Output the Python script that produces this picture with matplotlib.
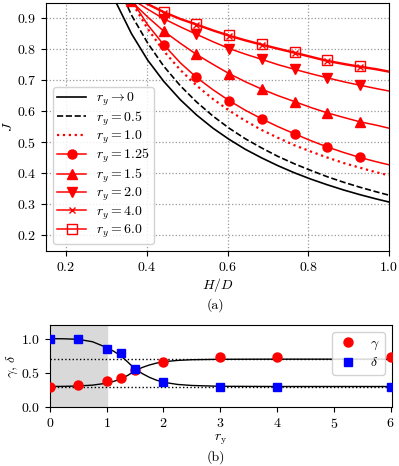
import numpy as np
import matplotlib
matplotlib.use("Agg")
import matplotlib.pyplot as plt

plt.rcParams['font.family'] = 'serif'
plt.rcParams['font.serif'] = ['cmr10', 'DejaVu Serif']
plt.rcParams['mathtext.fontset'] = 'cm'
plt.rcParams['axes.formatter.use_mathtext'] = True
plt.rcParams['font.size'] = 10

# ---- panel (a): J vs H/D ----
hd = [0.281, 0.321, 0.362, 0.402, 0.442, 0.483, 0.523, 0.564, 0.604, 0.644,
      0.685, 0.725, 0.766, 0.806, 0.846, 0.887, 0.927, 0.968, 1.0]
J_r0 = [1.096, 0.959, 0.851, 0.766, 0.697, 0.638, 0.589, 0.546, 0.510, 0.478,
        0.450, 0.425, 0.402, 0.382, 0.364, 0.347, 0.332, 0.318, 0.308]
J_r05 = [1.174, 1.028, 0.911, 0.821, 0.746, 0.683, 0.631, 0.585, 0.546, 0.512,
         0.482, 0.455, 0.431, 0.410, 0.390, 0.372, 0.356, 0.341, 0.330]
J_r10 = [1.208, 1.067, 0.954, 0.867, 0.795, 0.734, 0.684, 0.640, 0.603, 0.570,
         0.540, 0.515, 0.491, 0.471, 0.452, 0.434, 0.419, 0.404, 0.394]
J_r125 = [1.21, 1.075, 0.96, 0.88, 0.815, 0.757, 0.71, 0.67, 0.635, 0.604,
          0.576, 0.551, 0.528, 0.506, 0.486, 0.468, 0.452, 0.438, 0.428]
J_r15 = [1.07, 1.0, 0.955, 0.905, 0.859, 0.82, 0.784, 0.752, 0.722, 0.696,
         0.672, 0.651, 0.632, 0.613, 0.596, 0.581, 0.567, 0.556, 0.546]
J_r20 = [1.03, 0.99, 0.963, 0.93, 0.899, 0.873, 0.849, 0.825, 0.803, 0.785,
         0.768, 0.751, 0.736, 0.722, 0.709, 0.696, 0.685, 0.674, 0.666]
J_r40 = [1.005, 0.98, 0.972, 0.945, 0.919, 0.897, 0.879, 0.860, 0.843, 0.828,
         0.814, 0.801, 0.788, 0.775, 0.762, 0.752, 0.743, 0.735, 0.727]
J_r60 = [1.01, 0.985, 0.975, 0.948, 0.922, 0.90, 0.882, 0.863, 0.846, 0.831,
         0.817, 0.804, 0.791, 0.778, 0.765, 0.755, 0.746, 0.738, 0.730]

# ---- panel (b): gamma, delta vs r_y ----
ry = [0, 0.5, 1.0, 1.25, 1.5, 2.0, 3.0, 4.0, 6.0]
gamma = [0.30, 0.32, 0.387, 0.42, 0.54, 0.66, 0.73, 0.73, 0.73]
delta = [1.0, 1.0, 0.855, 0.79, 0.55, 0.37, 0.295, 0.295, 0.295]
ry_fit = [0, 0.25, 0.5, 0.75, 1.0, 1.125, 1.25, 1.375, 1.5, 1.625, 1.75,
          1.875, 2.0, 2.25, 2.5, 3.0, 4.0, 5.0, 6.0]
gamma_fit = [0.30, 0.302, 0.308, 0.32, 0.348, 0.375, 0.41, 0.465, 0.53, 0.578,
             0.614, 0.642, 0.662, 0.682, 0.692, 0.698, 0.70, 0.70, 0.70]
delta_fit = [1.0, 0.998, 0.99, 0.955, 0.87, 0.815, 0.749, 0.655, 0.556, 0.49,
             0.435, 0.393, 0.362, 0.33, 0.315, 0.303, 0.30, 0.30, 0.30]

fig = plt.figure(figsize=(3.99, 4.66), dpi=100)
ax = fig.add_axes([0.115, 0.4614, 0.86, 0.5322])

ax.plot(hd, J_r0, color='k', lw=1.2, label=r'$r_y \to 0$')
ax.plot(hd, J_r05, color='k', lw=1.2, ls='--', label=r'$r_y = 0.5$')
ax.plot(hd, J_r10, color='r', lw=1.6, ls=':', label=r'$r_y = 1.0$')
mk = slice(2, 17, 2)
ax.plot(hd, J_r125, color='r', lw=1.1, marker='o', ms=6.5, markevery=mk, label=r'$r_y = 1.25$')
ax.plot(hd, J_r15, color='r', lw=1.1, marker='^', ms=6.5, markevery=mk, label=r'$r_y = 1.5$')
ax.plot(hd, J_r20, color='r', lw=1.1, marker='v', ms=6.5, markevery=mk, label=r'$r_y = 2.0$')
ax.plot(hd, J_r40, color='r', lw=1.1, marker='x', ms=5, markevery=mk, label=r'$r_y = 4.0$')
ax.plot(hd, J_r60, color='r', lw=1.1, marker='s', ms=6.5, mfc='none', markevery=mk, label=r'$r_y = 6.0$')

ax.set_xlim(0.15, 1.0)
ax.set_ylim(0.15, 0.95)
ax.set_xticks([0.2, 0.4, 0.6, 0.8, 1.0])
ax.set_yticks([0.2, 0.3, 0.4, 0.5, 0.6, 0.7, 0.8, 0.9])
ax.grid(True, ls=':', color='0.6', lw=0.9)
ax.set_xlabel(r'$H/D$', labelpad=2)
ax.set_ylabel(r'$J$', labelpad=1)
ax.legend(loc='lower left', handlelength=2.1, labelspacing=0.08, borderpad=0.3,
          handletextpad=0.7, fontsize=10, framealpha=0.85)
fig.text(0.54, 0.345, '(a)', ha='center', va='center', fontsize=10)

ax2 = fig.add_axes([0.125, 0.1266, 0.857, 0.176])
ax2.axvspan(0, 1, color='0.85', zorder=0)
ax2.axhline(0.7, color='k', ls=':', lw=1.0)
ax2.axhline(0.3, color='k', ls=':', lw=1.0)
ax2.plot(ry_fit, gamma_fit, color='k', lw=1.0)
ax2.plot(ry_fit, delta_fit, color='k', lw=1.0)
ax2.plot(ry, gamma, 'o', color='#ff0000', ms=6.5, ls='none', label=r'$\gamma$', zorder=3)
ax2.plot(ry, delta, 's', color='#0000ff', ms=6, ls='none', label=r'$\delta$', zorder=3)
ax2.set_xlim(0, 6.02)
ax2.set_ylim(0, 1.2)
ax2.set_yticks([0.0, 0.5, 1.0])
ax2.set_xticks([0, 1, 2, 3, 4, 5, 6])
ax2.set_xlabel(r'$r_{\rm y}$', labelpad=1)
ax2.set_ylabel(r'$\gamma,\, \delta$', labelpad=1)
ax2.legend(loc='upper right', numpoints=1, handlelength=1.5, labelspacing=0.3,
           fontsize=10, framealpha=0.85)
fig.text(0.54, 0.02, '(b)', ha='center', va='center', fontsize=10)

fig.savefig('out.png', dpi=100)
